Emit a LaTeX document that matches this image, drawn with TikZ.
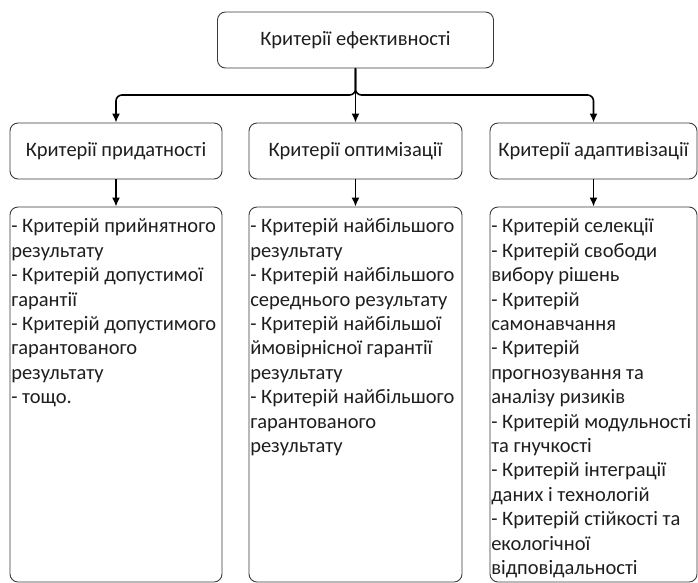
\documentclass[tikz,border=0pt]{standalone}
\usepackage{fontspec}
\setmainfont{Carlito}
\usetikzlibrary{arrows.meta}
\definecolor{boxline}{HTML}{3A3A3A}
\definecolor{txt}{HTML}{1E1E1E}
\tikzset{
  rbox/.style={draw=boxline, line width=0.9pt, rounded corners=8pt, inner sep=0pt},
  conn/.style={line width=1.6pt, black, -{Latex[length=9pt,width=8pt]}},
  lbl/.style={text=txt, font=\fontsize{20.5}{24.4}\selectfont, inner sep=0pt},
  listtxt/.style={text=txt, font=\fontsize{20.5}{24.4}\selectfont, inner sep=0pt, align=left, anchor=north west}
}
\begin{document}
\begin{tikzpicture}[x=1pt,y=-1pt]
\useasboundingbox (0,0) rectangle (698,582);
% top
\node[rbox, minimum width=276pt, minimum height=56pt] (top) at (355.5,40) {};
\node[lbl] (topt) at (top.center) {Критерії ефективності};
% second row
\node[rbox, minimum width=212pt, minimum height=56pt] (a) at (116,151) {};
\node[rbox, minimum width=213pt, minimum height=56pt] (b) at (355.5,151) {};
\node[rbox, minimum width=207pt, minimum height=56pt] (c) at (593.5,151) {};
\node[lbl] (at) at (a.center) {Критерії придатності};
\node[lbl] (bt) at (b.center) {Критерії оптимізації};
\node[lbl] (ct) at (c.center) {Критерії адаптивізації};
% third row
\node[rbox, minimum width=212pt, minimum height=375pt] (a2) at (116,394.5) {};
\node[rbox, minimum width=213pt, minimum height=375pt] (b2) at (355.5,394.5) {};
\node[rbox, minimum width=207pt, minimum height=375pt] (c2) at (593.5,394.5) {};
\node[listtxt] (a2t) at ([xshift=1.5pt,yshift=-12pt]a2.north west) {- Критерій прийнятного\\результату\\- Критерій допустимої\\гарантії\\- Критерій допустимого\\гарантованого\\результату\\- тощо.};
\node[listtxt] (b2t) at ([xshift=1.5pt,yshift=-12pt]b2.north west) {- Критерій найбільшого\\результату\\- Критерій найбільшого\\середнього результату\\- Критерій найбільшої\\ймовірнісної гарантії\\результату\\- Критерій найбільшого\\гарантованого\\результату};
\node[listtxt] (c2t) at ([xshift=1.5pt,yshift=-12pt]c2.north west) {- Критерій селекції\\- Критерій свободи\\вибору рішень\\- Критерій\\самонавчання\\- Критерій\\прогнозування та\\аналізу ризиків\\- Критерій модульності\\та гнучкості\\- Критерій інтеграції\\даних і технологій\\- Критерій стійкості та\\екологічної\\відповідальності};
% connectors
\coordinate (j) at (top.south |- 0,95);
\draw[conn, rounded corners=6pt] (top.south) -- (j) -| (a.north);
\draw[conn, rounded corners=6pt] (top.south) -- (j) -| (c.north);
\draw[conn] (top.south) -- (b.north);
\draw[conn] (a.south) -- (a2.north);
\draw[conn] (b.south) -- (b2.north);
\draw[conn] (c.south) -- (c2.north);
\end{tikzpicture}
\end{document}
